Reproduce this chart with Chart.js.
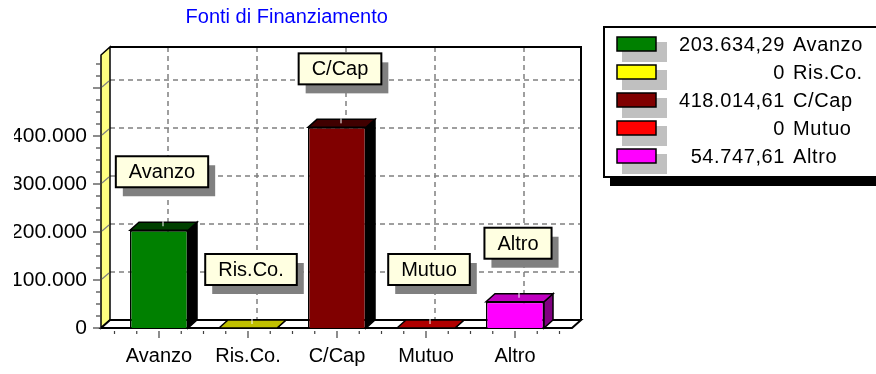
<!DOCTYPE html>
<html>
<head>
<meta charset="utf-8">
<script src="https://cdn.jsdelivr.net/npm/chart.js@4.4.1/dist/chart.umd.min.js"></script>
<style>
  body { margin: 0; background: #fff; }
  canvas { display: block; }
</style>
</head>
<body>
<canvas id="chart" width="876" height="374"></canvas>
<script>
// dati
const categories = ["Avanzo", "Ris.Co.", "C/Cap", "Mutuo", "Altro"];
const amounts = [203634.29, 0, 418014.61, 0, 54747.61];
const yTickValues = [0, 100000, 200000, 300000, 400000];
const yTickLabels = ["0", "100.000", "200.000", "300.000", "400.000"];

// colori: faccia frontale, faccia superiore, fianco
const faceColors = ["#008000", "#FFFF00", "#800000", "#FF0000", "#FF00FF"];
const topColors = ["#004000", "#C0C000", "#400000", "#B00000", "#C000C0"];
const sideColors = ["#000000", "#808000", "#000000", "#800000", "#800080"];

const FONT = "'Liberation Sans', Arial, sans-serif";
const DX = 9, DY = 8; // profondità 3D

function fmt(v) {
  if (v === 0) return "0";
  const [i, d] = v.toFixed(2).split(".");
  return i.replace(/\B(?=(\d{3})+(?!\d))/g, ".") + "," + d;
}

function poly(ctx, pts, fill, stroke, lw) {
  ctx.beginPath();
  ctx.moveTo(pts[0][0], pts[0][1]);
  for (let k = 1; k < pts.length; k++) ctx.lineTo(pts[k][0], pts[k][1]);
  ctx.closePath();
  if (fill) { ctx.fillStyle = fill; ctx.fill(); }
  if (stroke) { ctx.strokeStyle = stroke; ctx.lineWidth = lw || 1.5; ctx.stroke(); }
}

function line(ctx, x1, y1, x2, y2) {
  ctx.beginPath();
  ctx.moveTo(x1, y1);
  ctx.lineTo(x2, y2);
  ctx.stroke();
}

/* pareti, pavimento, griglia */
const box3d = {
  id: "box3d",
  beforeDatasetsDraw(chart) {
    const { ctx, chartArea: a, scales: { x, y } } = chart;
    const fl = a.left - 13.5, fr = a.right + 12.5;
    const base = y.getPixelForValue(0), top = a.top;
    ctx.save();

    // griglia sulla parete di fondo
    ctx.strokeStyle = "#808080";
    ctx.lineWidth = 1.5;
    ctx.setLineDash([5, 4]);
    for (let v = 100000; v <= y.max; v += 100000) {
      const py = y.getPixelForValue(v) - DY;
      line(ctx, fl + DX, py, fr + DX, py);
    }
    categories.forEach((c, i) => {
      const px = x.getPixelForValue(i) + DX;
      line(ctx, px, top - DY, px, base - DY);
    });
    ctx.setLineDash([]);

    // parete sinistra
    poly(ctx, [[fl, top], [fl + DX, top - DY], [fl + DX, base - DY], [fl, base]], "#FFFF80", "#000", 1.5);

    // bordo della parete di fondo
    ctx.strokeStyle = "#000";
    ctx.lineWidth = 2;
    ctx.beginPath();
    ctx.moveTo(fl + DX, top - DY);
    ctx.lineTo(fr + DX, top - DY);
    ctx.lineTo(fr + DX, base - DY);
    ctx.stroke();

    // pavimento
    poly(ctx, [[fl, base], [fl + DX, base - DY], [fr + DX, base - DY], [fr, base]], "#fff", "#000", 2);

    // tacche asse y
    ctx.strokeStyle = "#404040";
    ctx.lineWidth = 1.2;
    for (let v = 0; v <= y.max; v += 25000) {
      const py = y.getPixelForValue(v);
      const major = v % 100000 === 0;
      line(ctx, fl - (major ? 8 : 5), py, fl - (major ? 0 : 1), py);
      if (major && v > 0) {
        ctx.strokeStyle = "#808080";
        line(ctx, fl + 1, py - 1, fl + DX - 1, py - DY + 1);
        ctx.strokeStyle = "#404040";
      }
    }

    // tacche asse x
    const step = (a.right - a.left) / categories.length / 4;
    for (let k = 0; k <= categories.length * 4; k++) {
      const px = a.left + k * step;
      const major = k % 4 === 2;
      line(ctx, px, base + 3, px, base + (major ? 10 : 6));
    }
    ctx.restore();
  },

  afterDatasetsDraw(chart) {
    const { ctx } = chart;
    const meta = chart.getDatasetMeta(0);
    ctx.save();
    meta.data.forEach((bar, i) => {
      const { x: cx, y: ty, width: w, base: b } = bar.getProps(["x", "y", "width", "base"], true);
      const l = cx - w / 2, r = cx + w / 2;
      poly(ctx, [[r, ty], [r + DX, ty - DY], [r + DX, b - DY], [r, b]], sideColors[i], "#000", 1.5);
      poly(ctx, [[l, ty], [l + DX, ty - DY], [r + DX, ty - DY], [r, ty]], topColors[i], "#000", 1.5);
      ctx.strokeStyle = "#fff";
      ctx.lineWidth = 1;
      line(ctx, cx + 4, ty - DY - 1, cx + 4, ty - DY + 4);
    });

    // etichette delle colonne
    ctx.font = "20px " + FONT;
    ctx.textAlign = "center";
    ctx.textBaseline = "middle";
    meta.data.forEach((bar, i) => {
      const txt = categories[i];
      const bw = ctx.measureText(txt).width + 26, bh = 31;
      const cx = bar.x + 3;
      const bx = cx - bw / 2, by = bar.y - 43 - bh;
      ctx.fillStyle = "#808080";
      ctx.fillRect(bx + 7, by + 9, bw, bh);
      ctx.fillStyle = "#FFFFE1";
      ctx.fillRect(bx, by, bw, bh);
      ctx.strokeStyle = "#000";
      ctx.lineWidth = 2;
      ctx.strokeRect(bx, by, bw, bh);
      ctx.fillStyle = "#000";
      ctx.fillText(txt, cx, by + bh / 2 + 1);
    });
    ctx.restore();
  },

  afterDraw(chart) {
    // legenda
    const { ctx } = chart;
    ctx.save();
    ctx.fillStyle = "#000";
    ctx.fillRect(610, 177, 266, 9);
    ctx.fillStyle = "#fff";
    ctx.fillRect(604, 27, 280, 150);
    ctx.strokeStyle = "#000";
    ctx.lineWidth = 2;
    ctx.strokeRect(604, 27, 280, 150);
    ctx.font = "20px " + FONT;
    ctx.textBaseline = "middle";
    ctx.letterSpacing = "0.6px";
    categories.forEach((c, i) => {
      const cy = 44 + i * 28;
      ctx.fillStyle = "#C0C0C0";
      ctx.fillRect(622, cy - 2, 45, 20);
      ctx.fillStyle = faceColors[i];
      ctx.fillRect(617, cy - 7, 39, 14);
      ctx.lineWidth = 1.5;
      ctx.strokeRect(617, cy - 7, 39, 14);
      ctx.fillStyle = "#000";
      ctx.textAlign = "right";
      ctx.fillText(fmt(amounts[i]), 785, cy + 1);
      ctx.textAlign = "left";
      ctx.fillText(c, 793, cy + 1);
    });
    ctx.restore();
  }
};

new Chart(document.getElementById("chart"), {
  type: "bar",
  data: {
    labels: categories,
    datasets: [{
      data: amounts,
      backgroundColor: faceColors,
      borderColor: "#000",
      borderWidth: 1.5,
      barPercentage: 0.652,
      categoryPercentage: 1
    }]
  },
  options: {
    responsive: false,
    animation: false,
    layout: { padding: { left: 14, right: 316.5, top: 0, bottom: 0 } },
    plugins: {
      legend: { display: false },
      tooltip: { enabled: false },
      title: {
        display: true,
        text: "Fonti di Finanziamento",
        color: "#0000FF",
        font: { family: FONT, size: 20, weight: "normal" },
        padding: { top: 5, bottom: 26 }
      }
    },
    scales: {
      x: {
        grid: { display: false, drawTicks: false },
        border: { display: false },
        ticks: { color: "#000", font: { family: FONT, size: 20 }, padding: 16 },
        afterFit: s => { s.height = 46; }
      },
      y: {
        min: 0,
        max: 568750,
        grid: { display: false, drawTicks: false },
        border: { display: false },
        afterBuildTicks: s => { s.ticks = yTickValues.map(v => ({ value: v })); },
        ticks: {
          color: "#000",
          font: { family: FONT, size: 21 },
          padding: 27.5,
          callback: (v, k) => yTickLabels[k]
        },
        afterFit: s => { s.width = 100.5; }
      }
    }
  },
  plugins: [box3d]
});
</script>
</body>
</html>
